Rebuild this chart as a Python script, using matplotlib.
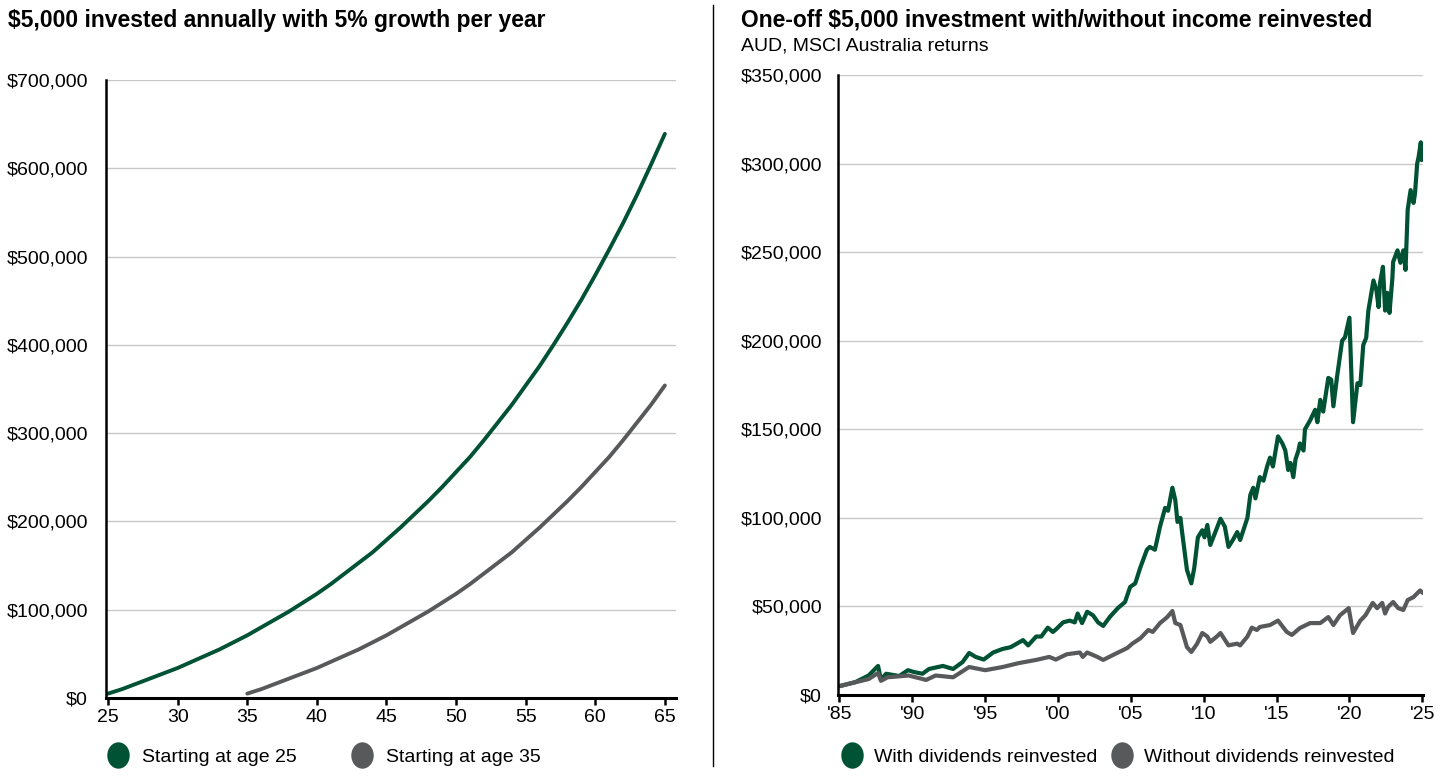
import matplotlib
matplotlib.use("Agg")
import matplotlib.pyplot as plt
from matplotlib.lines import Line2D
from matplotlib.path import Path
from matplotlib.ticker import FuncFormatter

plt.rcParams['font.family'] = ['Liberation Sans', 'DejaVu Sans']

# ---------------- Data: left chart ----------------
ages_25 = list(range(25, 66))
start_25 = [5000, 10000, 16000, 22000, 28000, 34000, 41000, 48000, 55000, 63000,
            71000, 80000, 89000, 98000, 108000, 118000, 129000, 141000, 153000, 165000,
            179000, 193000, 208000, 223000, 239000, 256000, 273000, 292000, 312000, 332000,
            354000, 376000, 400000, 425000, 451000, 479000, 508000, 538000, 570000, 604000,
            639000]
ages_35 = list(range(35, 66))
start_35 = [5000, 10000, 16000, 22000, 28000, 34000, 41000, 48000, 55000, 63000,
            71000, 80000, 89000, 98000, 108000, 118000, 129000, 141000, 153000, 165000,
            179000, 193000, 208000, 223000, 239000, 256000, 273000, 292000, 312000, 332000,
            354000]
left_labels = ["Starting at age 25", "Starting at age 35"]
left_ticks = [25, 30, 35, 40, 45, 50, 55, 60, 65]

# ---------------- Data: right chart (values in $k) ----------------
with_div_years = [1985.0, 1986.1, 1987.0, 1987.65, 1987.85, 1988.2, 1989.1, 1989.7, 1990.1, 1990.7,
                  1991.15, 1992.1, 1992.8, 1993.45, 1993.9, 1994.35, 1994.9, 1995.55, 1996.2, 1996.75,
                  1997.6, 1997.95, 1998.5, 1998.85, 1999.3, 1999.65, 1999.85, 2000.35, 2000.8, 2001.15,
                  2001.35, 2001.65, 2002.0, 2002.4, 2002.75, 2003.1, 2003.55, 2004.1, 2004.6, 2004.95,
                  2005.3, 2005.65, 2006.1, 2006.3, 2006.65, 2007.0, 2007.35, 2007.55, 2007.85, 2008.05,
                  2008.2, 2008.4, 2008.5, 2008.85, 2009.15, 2009.35, 2009.6, 2009.9, 2010.05, 2010.25,
                  2010.45, 2010.8, 2011.15, 2011.45, 2011.7, 2012.0, 2012.3, 2012.5, 2013.0, 2013.2,
                  2013.4, 2013.55, 2013.85, 2014.1, 2014.35, 2014.55, 2014.75, 2015.1, 2015.4, 2015.6,
                  2015.8, 2015.95, 2016.15, 2016.3, 2016.5, 2016.6, 2016.85, 2016.95, 2017.3, 2017.65,
                  2017.8, 2018.0, 2018.2, 2018.55, 2018.75, 2018.9, 2019.15, 2019.5, 2019.7, 2020.0,
                  2020.25, 2020.55, 2020.75, 2020.95, 2021.15, 2021.3, 2021.65, 2021.85, 2022.0, 2022.1,
                  2022.3, 2022.45, 2022.6, 2022.75, 2022.95, 2023.0, 2023.3, 2023.5, 2023.7, 2023.85,
                  2024.0, 2024.2, 2024.4, 2024.5, 2024.65, 2024.75, 2024.9, 2024.95, 2025.05]
with_div_k = [5.0, 7.3, 11, 16.4, 8.5, 12, 10.7, 14, 13, 12,
              14.7, 16.4, 14.7, 18.6, 23.7, 21.5, 20, 24, 26, 27,
              31, 28, 33, 33, 38, 35.6, 37, 41, 42, 41,
              46, 40.6, 47, 45, 41, 39, 44, 49, 52.5, 61,
              63, 72, 82, 83.6, 82, 95, 105.6, 104, 117, 110,
              97.7, 100, 93, 70.6, 63, 71.7, 89, 93, 89, 96,
              84.7, 92, 99.5, 95, 83.6, 87.5, 92, 87.5, 100, 113,
              117, 111, 123, 121, 129, 134, 129, 146, 142, 138,
              127, 131, 123, 133, 138, 142, 138, 150, 155, 161,
              154, 166.6, 160, 179, 178, 163, 179.6, 200, 202, 213,
              154, 176, 175, 197.6, 201.6, 217, 234, 228.7, 219, 232.6,
              241.7, 217, 227, 215.7, 235.5, 244.5, 251, 244, 251, 240,
              274, 285, 277.8, 283, 300, 303.8, 312, 302, 304]

no_div_years = [1985.0, 1987.0, 1987.65, 1987.85, 1988.3, 1989.75, 1990.95, 1991.6, 1992.8, 1993.9,
                1995.0, 1996.2, 1997.3, 1998.5, 1999.4, 1999.85, 2000.6, 2001.5, 2001.7, 2002.0,
                2002.7, 2003.1, 2004.05, 2004.75, 2005.1, 2005.65, 2006.2, 2006.5, 2007.0, 2007.5,
                2007.85, 2008.05, 2008.4, 2008.85, 2009.15, 2009.55, 2009.9, 2010.25, 2010.45, 2010.9,
                2011.15, 2011.7, 2012.3, 2012.5, 2013.0, 2013.3, 2013.65, 2013.85, 2014.55, 2015.1,
                2015.7, 2016.05, 2016.6, 2017.3, 2018.0, 2018.55, 2018.9, 2019.35, 2019.95, 2020.25,
                2020.75, 2021.1, 2021.6, 2021.9, 2022.25, 2022.45, 2022.65, 2023.0, 2023.35, 2023.7,
                2024.0, 2024.4, 2024.85, 2025.05]
no_div_k = [5, 9, 12.4, 8, 10, 11, 8.5, 11, 10, 15.8,
            14, 15.8, 18, 19.8, 21.5, 20, 23, 24, 21.5, 24,
            21.5, 19.8, 23.7, 26.5, 29, 32, 36.7, 35.6, 40.6, 44,
            47.4, 40.6, 39.5, 27, 24.3, 29, 35, 33, 30, 33,
            35, 28, 29, 28, 33, 38, 36.7, 38.4, 39.5, 42,
            35.6, 33.9, 37.8, 40.6, 40.6, 44, 39.5, 45, 49, 35,
            42, 45, 52, 49, 52, 46, 49.7, 52.5, 49, 48,
            53.6, 55.3, 59, 57.6]
right_labels = ["With dividends reinvested", "Without dividends reinvested"]
right_ticks = [1985, 1990, 1995, 2000, 2005, 2010, 2015, 2020, 2025]
right_ticklabels = ["'85", "'90", "'95", "'00", "'05", "'10", "'15", "'20", "'25"]

GREEN = "#005234"
GREY = "#58595B"
GRID = "#C8C8C8"
FS = 14

W, H = 1445, 783
fig = plt.figure(figsize=(W / 100, H / 100), dpi=100)


def fx(px):
    return px / W


def fy(py):
    return 1 - py / H


money = FuncFormatter(lambda v, p: "${:,.0f}".format(v))

# ---------------- Left axes ----------------
axL = fig.add_axes([fx(106), fy(698), fx(676) - fx(106), fy(80) - fy(698)])
axL.plot(ages_25, start_25, color=GREEN, lw=2.8, solid_capstyle='round', solid_joinstyle='round')
axL.plot(ages_35, start_35, color=GREY, lw=2.8, solid_capstyle='round', solid_joinstyle='round')
axL.set_xlim(24.85, 65.8)
axL.set_ylim(0, 700000)
axL.set_yticks(range(0, 700001, 100000))
axL.yaxis.set_major_formatter(money)
axL.set_xticks(left_ticks)

# ---------------- Right axes ----------------
axR = fig.add_axes([fx(838), fy(695), fx(1423) - fx(838), fy(75) - fy(695)])
axR.plot(with_div_years, [v * 1000 for v in with_div_k], color=GREEN, lw=3.0,
         solid_capstyle='round', solid_joinstyle='round')
axR.plot(no_div_years, [v * 1000 for v in no_div_k], color=GREY, lw=3.0,
         solid_capstyle='round', solid_joinstyle='round')
axR.set_xlim(1984.9, 2025.05)
axR.set_ylim(0, 350000)
axR.set_yticks(range(0, 350001, 50000))
axR.yaxis.set_major_formatter(money)
axR.set_xticks(right_ticks)
axR.set_xticklabels(right_ticklabels)

for ax, ypad in ((axL, 13), (axR, 11.5)):
    for s in ('top', 'right'):
        ax.spines[s].set_visible(False)
    ax.spines['left'].set_linewidth(1.8)
    ax.spines['bottom'].set_linewidth(2.2)
    ax.spines['left'].set_zorder(5)
    ax.spines['bottom'].set_zorder(5)
    ax.grid(axis='y', color=GRID, lw=1.0)
    ax.set_axisbelow(True)
    ax.tick_params(axis='y', length=0, pad=ypad, labelsize=FS)
    ax.tick_params(axis='x', length=5, width=1.8, pad=3, labelsize=FS, direction='out')

# ---------------- Titles ----------------
fig.text(fx(8), fy(20), "$5,000 invested annually with 5% growth per year",
         fontsize=16.5, fontweight='bold', ha='left', va='center')
fig.text(fx(741), fy(20), "One-off $5,000 investment with/without income reinvested",
         fontsize=16.5, fontweight='bold', ha='left', va='center')
fig.text(fx(741), fy(46), "AUD, MSCI Australia returns", fontsize=FS, ha='left', va='center')

# separator
fig.add_artist(Line2D([fx(713), fx(713)], [fy(5), fy(766)], color='black', lw=1.0))

# ---------------- Legends ----------------
circ = Path.unit_circle()
ell = Path(circ.vertices * [0.85, 1.0], circ.codes)


def handles(labels):
    return [Line2D([], [], marker=ell, linestyle='none', markersize=19, color=c,
                   markeredgewidth=0, label=l) for c, l in zip((GREEN, GREY), labels)]


legL = axL.legend(handles=handles(left_labels), ncol=2, frameon=False, fontsize=FS,
                  loc='center left', bbox_to_anchor=(fx(106), fy(757)),
                  bbox_transform=fig.transFigure, borderpad=0, borderaxespad=0,
                  handlelength=1.2, handletextpad=0.65, columnspacing=2.75)
legR = axR.legend(handles=handles(right_labels), ncol=2, frameon=False, fontsize=FS,
                  loc='center left', bbox_to_anchor=(fx(840), fy(757)),
                  bbox_transform=fig.transFigure, borderpad=0, borderaxespad=0,
                  handlelength=1.2, handletextpad=0.55, columnspacing=0.65)

fig.savefig("out.png", dpi=100)
